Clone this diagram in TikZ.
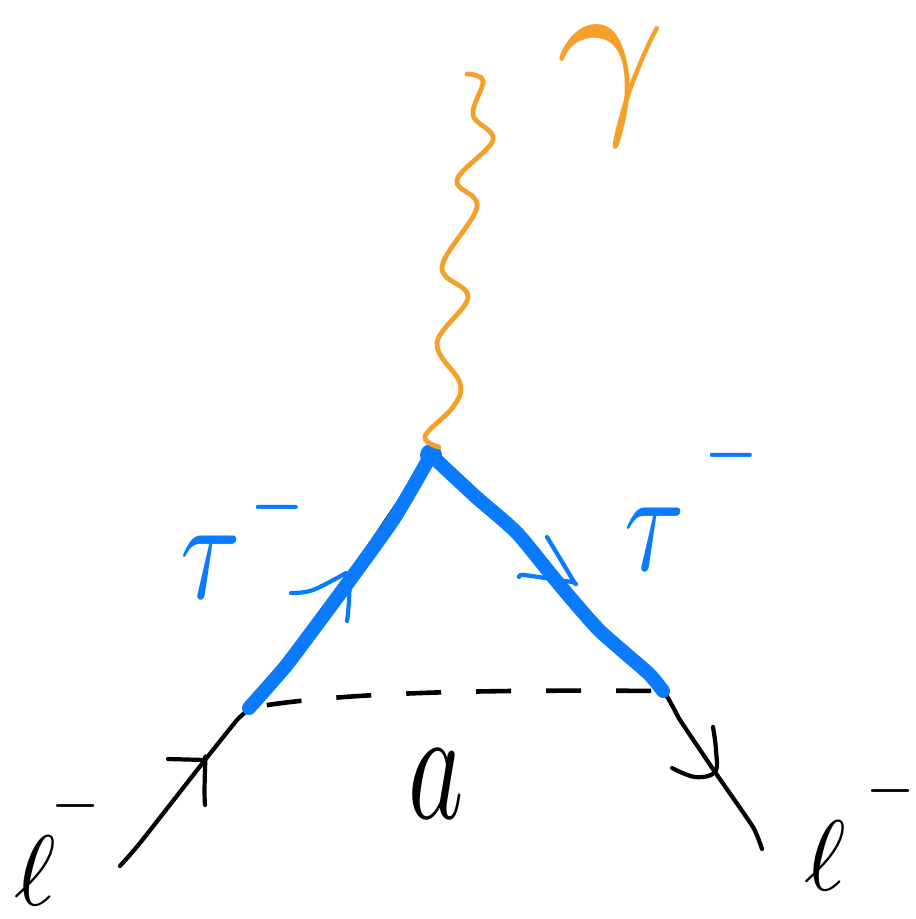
\documentclass[tikz,border=0pt]{standalone}
\usepackage{xcolor}
\usepackage{amsmath}
\usepackage{tikz}
\definecolor{taublue}{HTML}{0A7BFF}
\definecolor{photonorange}{HTML}{F5A02A}
\newcommand{\upminus}[2]{^{\kern#2\raisebox{#1}{$\scriptscriptstyle-$}}}

\begin{document}
\begin{tikzpicture}[
  x=1pt, y=-1pt,
  lepton/.style={draw=black, line width=4.2pt, line cap=round, line join=round},
  virtual/.style={draw=black, line width=4.6pt, dash pattern=on 35pt off 35pt, dash phase=52pt},
  heavy/.style={draw=taublue, line width=14pt, line cap=round, line join=round},
  flow/.style={draw=taublue, line width=4.2pt, line cap=round, line join=round},
  photon/.style={draw=photonorange, line width=4.8pt, line cap=round, line join=round},
  vertex/.style={circle, fill=taublue, inner sep=0pt, minimum size=22pt},
  tag/.style={inner sep=0pt, anchor=base west}
]
\useasboundingbox (0,0) rectangle (916,919);
\coordinate (lin) at (120,866);
\coordinate (lout) at (762,849);
\coordinate (jl) at (249,708);
\coordinate (jr) at (663,691);
\coordinate (tipin) at (205,760);
\coordinate (tipout) at (715,772);
\coordinate (tipl) at (350,580);
\coordinate (tipr) at (572,582);
\coordinate (gend) at (467,74);
\node[vertex] (vtx) at (431,455) {};
% lepton line
\draw[lepton] plot[smooth, tension=0.3] coordinates {(lin) (140,843) (tipin) (237,720) (jl) (300,642) (350,574) (392,512) (vtx)};
\draw[lepton] plot[smooth, tension=0.3] coordinates {(vtx) (517,528) (599,625) (jr) (680,720) (tipout) (753,827) (lout)};
\draw[lepton] (168,759) -- (tipin) to[out=85, in=95] (205,805);
\draw[lepton] plot[smooth, tension=0.6] coordinates {(672,768) (695,777) (tipout) (716,750) (713,727)};
% a
\draw[virtual] (jl) .. controls (350,690) and (520,690) .. (jr);
% tau loop
\draw[heavy] plot[smooth, tension=0.4] coordinates {(jl) (285,667) (313,630) (350,580) (395,517) (vtx)};
\draw[heavy] plot[smooth, tension=0.4] coordinates {(vtx) (476,497) (517,533) (558,583) (599,630) (648,673) (jr)};
\draw[flow] plot[smooth, tension=0.6] coordinates {(291,593) (313,590) (346,573)};
\draw[flow] (tipl) to[out=90, in=80] (347,621);
\draw[flow] plot[smooth, tension=0.4] coordinates {(519,577) (524,575) (tipr) (574,582) (547,537)};
% photon
\draw[photon] plot[smooth, tension=0.6] coordinates {(vtx.45) (425,436) (453,407) (460,383) (437,343) (468,297) (442,267) (477,207) (457,180) (493,140) (473,115) (483,81) (gend)};
% labels
\node[tag, scale=10, text=black] (elin) at (13,905) {$\ell\upminus{5pt}{-0.8pt}$};
\node[tag, scale=10, text=black] (elout) at (802,890) {$\ell\upminus{5pt}{1.8pt}$};
\node[tag, xscale=11, yscale=14.5, text=taublue] (taul) at (178,598) {$\tau\upminus{1.4pt}{0.6pt}$};
\node[tag, xscale=11, yscale=14.5, text=taublue] (taur) at (622,570) {$\tau\upminus{3pt}{1.5pt}$};
\node[tag, xscale=10.5, yscale=16, text=black] (acoup) at (406,818) {$a$};
\node[tag, scale=19, text=photonorange] (gam) at (553,108) {$\gamma$};
\end{tikzpicture}
\end{document}
